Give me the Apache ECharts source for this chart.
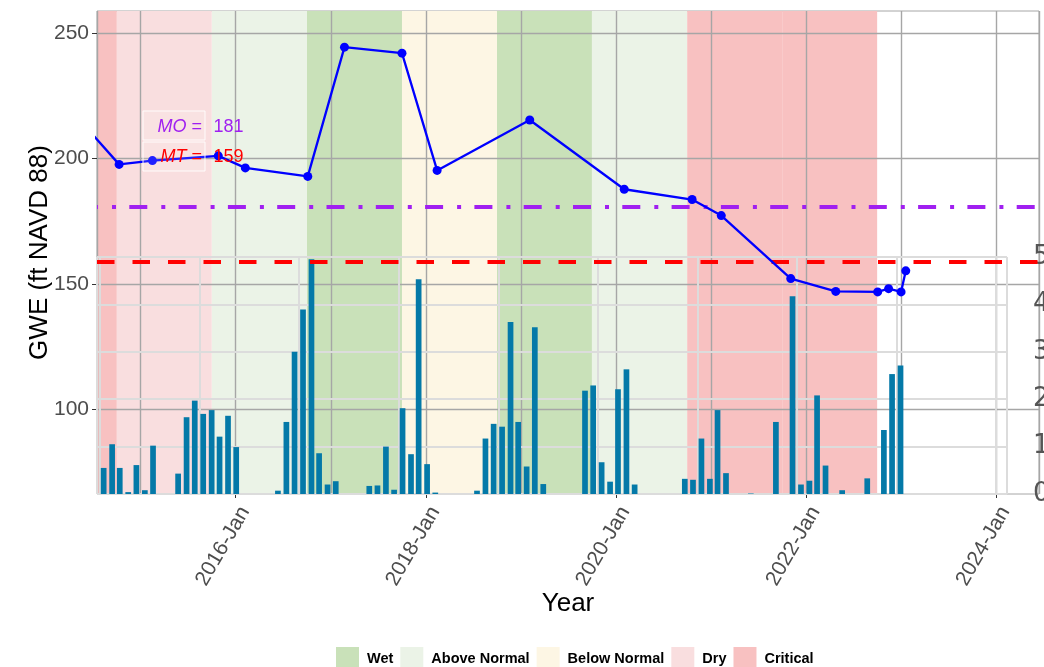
<!DOCTYPE html>
<html><head><meta charset="utf-8">
<script src="https://cdn.jsdelivr.net/npm/echarts@6/dist/echarts.min.js"></script>
<style>html,body{margin:0;padding:0;background:#fff}#c{width:1044px;height:667px}</style>
</head><body><div id="c"></div>
<script>
// ---- Groundwater elevation (GWE) measurements ----
const gweDates = ['2014-04-15','2014-10-10','2015-02-15','2015-10-26','2016-02-07','2016-10-04','2017-02-22','2017-10-01','2018-02-13','2019-02-04','2020-02-02','2020-10-20','2021-02-09','2021-11-03','2022-04-25','2022-10-03','2022-11-14','2023-01-01','2023-01-19'];
const gweValues = [218.4,197.7,199.2,201.1,196.3,192.9,244.4,242.0,195.3,215.4,187.8,183.7,177.3,152.2,147.1,146.9,148.2,146.9,155.3];

// ---- Thresholds ----
const thresholdNames = ['MO','MT'];
const thresholdValues = [181,159];
const thresholdColors = ['#a020f0','#ff0000'];

// ---- Monthly precipitation (right axis) ----
const precipMonths = [
'2015-01','2015-02','2015-03','2015-04','2015-05','2015-06','2015-07','2015-08','2015-09','2015-10','2015-11','2015-12',
'2016-01','2016-02','2016-03','2016-04','2016-05','2016-06','2016-07','2016-08','2016-09','2016-10','2016-11','2016-12',
'2017-01','2017-02','2017-03','2017-04','2017-05','2017-06','2017-07','2017-08','2017-09','2017-10','2017-11','2017-12',
'2018-01','2018-02','2018-03','2018-04','2018-05','2018-06','2018-07','2018-08','2018-09','2018-10','2018-11','2018-12',
'2019-01','2019-02','2019-03','2019-04','2019-05','2019-06','2019-07','2019-08','2019-09','2019-10','2019-11','2019-12',
'2020-01','2020-02','2020-03','2020-04','2020-05','2020-06','2020-07','2020-08','2020-09','2020-10','2020-11','2020-12',
'2021-01','2021-02','2021-03','2021-04','2021-05','2021-06','2021-07','2021-08','2021-09','2021-10','2021-11','2021-12',
'2022-01','2022-02','2022-03','2022-04','2022-05','2022-06','2022-07','2022-08','2022-09','2022-10','2022-11','2022-12',
'2023-01'];
const precipValues = [
0.55,1.05,0.55,0.04,0.61,0.08,1.02,0,0,0.43,1.62,1.97,
1.69,1.77,1.21,1.65,0.99,0,0,0,0,0.07,1.52,3.00,
3.89,4.95,0.86,0.20,0.27,0,0,0,0.17,0.18,1.00,0.09,
1.81,0.84,4.53,0.63,0.03,0,0,0,0,0.07,1.17,1.48,
1.42,3.63,1.52,0.58,3.52,0.21,0,0,0,0,2.18,2.29,
0.67,0.26,2.21,2.63,0.20,0,0,0,0,0,0.32,0.30,
1.17,0.32,1.77,0.44,0,0,0.01,0,0,1.52,0,4.17,
0.20,0.28,2.08,0.60,0,0.08,0,0,0.33,0,1.35,2.53,
2.71];

// ---- Water year types ----
const wyStart = ['2013-10-01','2014-10-01','2015-10-01','2016-10-01','2017-10-01','2018-10-01','2019-10-01','2020-10-01','2021-10-01'];
const wyEnd   = ['2014-10-01','2015-10-01','2016-10-01','2017-10-01','2018-10-01','2019-10-01','2020-10-01','2021-10-01','2022-10-01'];
const wyType  = ['Critical','Dry','Above Normal','Wet','Below Normal','Wet','Above Normal','Critical','Critical'];
const typeNames  = ['Wet','Above Normal','Below Normal','Dry','Critical'];
const typeColors = ['#c9e1b9','#ebf3e7','#fdf6e4','#f9dedf','#f8c1c1'];

// ---- Axis ticks ----
const xTickDates  = ['2016-01-01','2018-01-01','2020-01-01','2022-01-01','2024-01-01'];
const xTickLabels = ['2016-Jan','2018-Jan','2020-Jan','2022-Jan','2024-Jan'];
const yTicks = [100,150,200,250];
const y2Ticks = [0,1,2,3,4,5];

function parseDate(s){ const p=s.split('-'); return new Date(+p[0], +p[1]-1, +(p[2]||1)).getTime(); }
const YEAR = 365.25*24*3600*1000;
const FONT = 'Liberation Sans, Arial, sans-serif';

const mainXMin = parseDate('2014-07-17'), mainXMax = parseDate('2024-06-14');
const insetXMin = parseDate('2015-01-01'), insetXMax = parseDate('2024-01-30');

function bandSeries(k){
  const data=[];
  for(let i=0;i<wyType.length;i++) if(wyType[i]===typeNames[k]) data.push([parseDate(wyStart[i]), parseDate(wyEnd[i])]);
  return {
    type:'custom', name:typeNames[k], xAxisIndex:0, yAxisIndex:0, z:0, silent:true,
    itemStyle:{color:typeColors[k]}, encode:{x:[0,1]}, data,
    renderItem(params, api){
      const cs=params.coordSys;
      let x0=api.coord([api.value(0),150])[0], x1=api.coord([api.value(1),150])[0];
      x0=Math.max(x0,cs.x); x1=Math.min(x1,cs.x+cs.width);
      if(x1<=x0) return null;
      return {type:'rect', shape:{x:x0,y:cs.y,width:x1-x0,height:cs.height}, style:{fill:typeColors[k]}};
    }
  };
}

const chart = echarts.init(document.getElementById('c'), null, {renderer:'canvas'});
const tickLabelMap = {};
xTickDates.forEach((d,i)=>{ tickLabelMap[new Date(parseDate(d)).getFullYear()] = xTickLabels[i]; });
function xLabel(v){
  const d=new Date(v);
  if(d.getMonth()===0 && d.getDate()===1 && d.getHours()===0) return tickLabelMap[d.getFullYear()] || '';
  return '';
}

const option = {
  animation:false,
  backgroundColor:'#ffffff',
  textStyle:{fontFamily:FONT},
  grid:[
    {left:97, top:11, right:5, bottom:173, show:true, borderColor:'#a6a6a6', borderWidth:1, backgroundColor:'transparent', containLabel:false, outerBoundsMode:'none'},
    {left:97, top:257, right:37, bottom:173, show:false, containLabel:false, outerBoundsMode:'none'}
  ],
  xAxis:[
    {type:'time', gridIndex:0, position:'bottom', min:mainXMin, max:mainXMax, z:1,
     minInterval:YEAR*0.99, maxInterval:YEAR*1.01,
     name:'Year', nameLocation:'middle', nameGap:97, nameMoveOverlap:false,
     nameTextStyle:{fontSize:26, color:'#000', fontFamily:FONT},
     axisLine:{show:false},
     axisTick:{show:false},
     axisLabel:{rotate:60, margin:9, fontSize:21, color:'#4d4d4d', fontFamily:FONT, formatter:xLabel, hideOverlap:false, verticalAlign:'top'},
     splitLine:{show:true, lineStyle:{color:'#a6a6a6', width:1.4}}},
    {type:'time', gridIndex:1, min:insetXMin, max:insetXMax, z:2,
     minInterval:YEAR*0.99, maxInterval:YEAR*1.01,
     axisLine:{show:false}, axisTick:{show:false}, axisLabel:{show:false},
     splitLine:{show:true, lineStyle:{color:'#dcdcdc', width:2}}},
    {type:'value', gridIndex:0, position:'bottom', offset:0, min:mainXMin, max:mainXMax, z:1,
     axisLine:{show:false}, axisLabel:{show:false}, splitLine:{show:false},
     axisTick:{show:true, length:4, lineStyle:{color:'#333'}, customValues:xTickDates.map(parseDate)}}
  ],
  yAxis:[
    {type:'value', gridIndex:0, min:66.4, max:258.8, splitNumber:4, z:1,
     name:'GWE (ft NAVD 88)', nameLocation:'middle', nameGap:44, nameRotate:90, nameMoveOverlap:false,
     nameTextStyle:{fontSize:26, color:'#000', fontFamily:FONT},
     axisLine:{show:false},
     axisTick:{show:true, length:5, lineStyle:{color:'#333'}, customValues:yTicks},
     axisLabel:{fontSize:21, color:'#4d4d4d', margin:8, fontFamily:FONT, customValues:yTicks,
       formatter:(v)=> (yTicks.indexOf(v)>=0 ? String(v) : '')},
     splitLine:{show:true, lineStyle:{color:'#a6a6a6', width:1.4}}},
    {type:'value', gridIndex:1, position:'right', min:0, max:5, interval:1, z:2,
     axisLine:{show:false}, axisTick:{show:false},
     axisLabel:{fontSize:26, color:'#555', margin:26, fontFamily:'DejaVu Sans', align:'left',
       formatter:(v)=> (y2Ticks.indexOf(v)>=0 ? String(v) : '')},
     splitLine:{show:true, lineStyle:{color:'#dcdcdc', width:2}}}
  ],
  legend:{
    data:typeNames, left:331, top:642, icon:'rect', itemWidth:23, itemHeight:23, itemGap:7,
    selectedMode:false,
    textStyle:{fontFamily:FONT, fontWeight:'bold', fontSize:14.5, color:'#000', padding:[0,0,0,3]}
  },
  series:[
    ...typeNames.map((_,k)=>bandSeries(k)),
    {type:'bar', name:'Precipitation', xAxisIndex:1, yAxisIndex:1, z:3, barWidth:5.7,
     itemStyle:{color:'#0479a8'},
     data:precipMonths.map((m,i)=>[parseDate(m+'-15'), precipValues[i]])},
    {type:'line', name:'GWE', xAxisIndex:0, yAxisIndex:0, z:5, clip:true,
     symbol:'circle', symbolSize:9, showSymbol:true,
     lineStyle:{color:'#0000ff', width:2.3}, itemStyle:{color:'#0000ff'},
     data:gweDates.map((d,i)=>[parseDate(d), gweValues[i]]),
     markLine:{silent:true, symbol:'none', z:4, label:{show:false},
       data:[
         {yAxis:thresholdValues[0], lineStyle:{color:thresholdColors[0], width:4, type:[18,14,4,13.3], dashOffset:17, cap:'butt'}},
         {yAxis:thresholdValues[1], lineStyle:{color:thresholdColors[1], width:4, type:[17.5,18], cap:'butt'}}
       ]}}
  ],
  graphic:[
    {type:'rect', z:20, shape:{x:143,y:111,width:62,height:29}, style:{fill:'rgba(255,255,255,0.12)', stroke:'rgba(255,255,255,0.9)', lineWidth:1}},
    {type:'rect', z:20, shape:{x:143,y:142,width:62,height:29}, style:{fill:'rgba(255,255,255,0.12)', stroke:'rgba(255,255,255,0.9)', lineWidth:1}},
    {type:'text', z:21, x:202, y:127, style:{text:'{i|'+thresholdNames[0]+'} =', align:'right', verticalAlign:'middle', fill:thresholdColors[0], font:'18px '+FONT,
       rich:{i:{fontStyle:'italic', fontSize:18, fontFamily:FONT, fill:thresholdColors[0]}}}},
    {type:'text', z:21, x:213.5, y:127, style:{text:String(thresholdValues[0]), align:'left', verticalAlign:'middle', fill:thresholdColors[0], font:'18px '+FONT}},
    {type:'text', z:21, x:202, y:157, style:{text:'{i|'+thresholdNames[1]+'} =', align:'right', verticalAlign:'middle', fill:thresholdColors[1], font:'18px '+FONT,
       rich:{i:{fontStyle:'italic', fontSize:18, fontFamily:FONT, fill:thresholdColors[1]}}}},
    {type:'text', z:21, x:213.5, y:157, style:{text:String(thresholdValues[1]), align:'left', verticalAlign:'middle', fill:thresholdColors[1], font:'18px '+FONT}}
  ]
};
chart.setOption(option);
</script>
</body></html>
